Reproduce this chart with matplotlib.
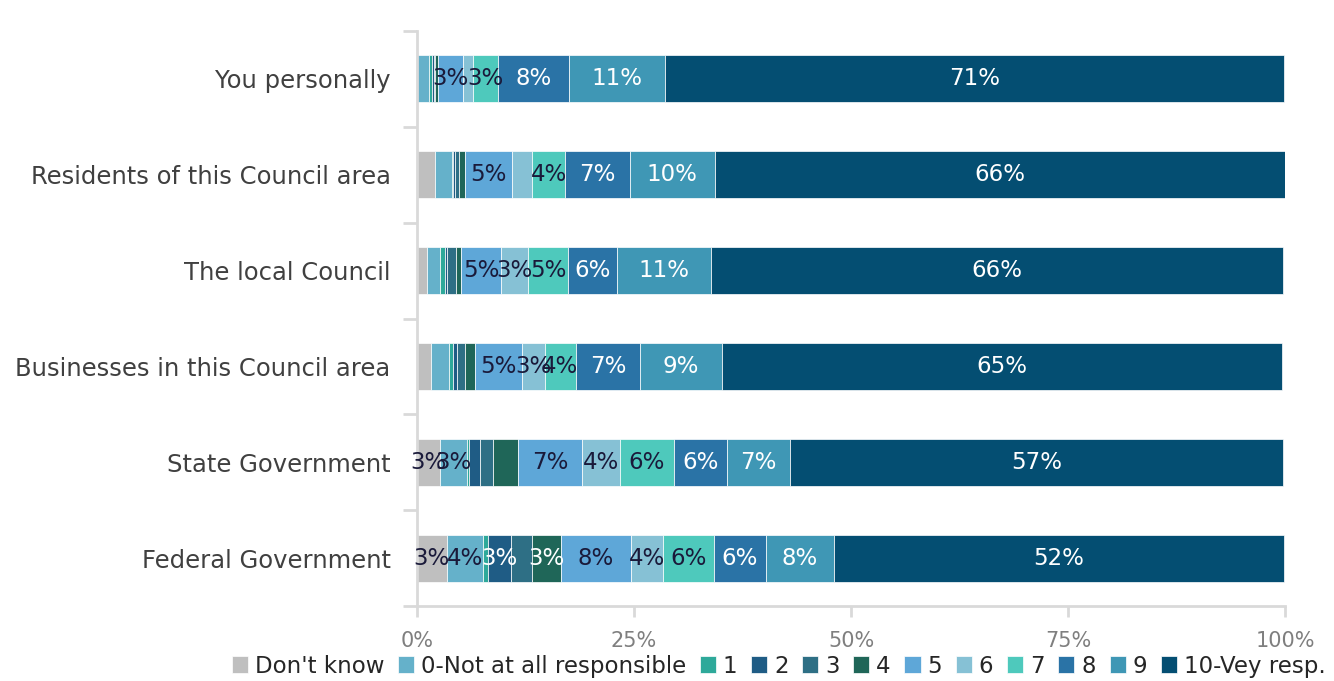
import matplotlib
matplotlib.use("Agg")
import matplotlib.pyplot as plt
import numpy as np

plt.rcParams['font.family'] = ['DejaVu Sans']

categories = [
    "You personally",
    "Residents of this Council area",
    "The local Council",
    "Businesses in this Council area",
    "State Government",
    "Federal Government",
]

series_names = ["Don't know", "0-Not at all responsible", "1", "2", "3", "4",
                "5", "6", "7", "8", "9", "10-Vey resp."]

# Percentages per series, one value per category (top to bottom)
dont_know = [0.0, 2.1, 1.1, 1.6, 2.6, 3.4]
score_0 = [1.4, 1.9, 1.6, 2.1, 3.2, 4.2]
score_1 = [0.3, 0.2, 0.5, 0.4, 0.2, 0.6]
score_2 = [0.2, 0.2, 0.3, 0.5, 1.2, 2.6]
score_3 = [0.2, 0.4, 1.0, 0.9, 1.6, 2.5]
score_4 = [0.3, 0.7, 0.6, 1.2, 2.8, 3.3]
score_5 = [2.9, 5.4, 4.6, 5.4, 7.4, 8.0]
score_6 = [1.1, 2.4, 3.1, 2.6, 4.4, 3.7]
score_7 = [2.9, 3.8, 4.6, 3.6, 6.2, 5.9]
score_8 = [8.2, 7.4, 5.6, 7.4, 6.1, 6.0]
score_9 = [11.1, 9.8, 10.9, 9.4, 7.3, 7.8]
score_10 = [71.3, 65.7, 65.9, 64.6, 56.8, 51.9]

values = [dont_know, score_0, score_1, score_2, score_3, score_4,
          score_5, score_6, score_7, score_8, score_9, score_10]

# Which segments carry a data label (1 = labelled)
show_label = [
    [0, 0, 0, 0, 1, 1],
    [0, 0, 0, 0, 1, 1],
    [0, 0, 0, 0, 0, 0],
    [0, 0, 0, 0, 0, 1],
    [0, 0, 0, 0, 0, 0],
    [0, 0, 0, 0, 0, 1],
    [1, 1, 1, 1, 1, 1],
    [0, 0, 1, 1, 1, 1],
    [1, 1, 1, 1, 1, 1],
    [1, 1, 1, 1, 1, 1],
    [1, 1, 1, 1, 1, 1],
    [1, 1, 1, 1, 1, 1],
]

colors = ["#BFBFBF", "#65B1CA", "#2EA99A", "#1F5C85", "#2E6F85", "#1F6658",
          "#5EA7D8", "#86C1D5", "#4EC9BC", "#2A73A6", "#3F97B5", "#044E72"]
label_colors = ["#1A1A3A", "#1A1A3A", "white", "white", "white", "white",
                "#1A1A3A", "#1A1A3A", "#1A1A3A", "white", "white", "white"]

fig = plt.figure(figsize=(13.34, 6.81), dpi=100)
ax = fig.add_axes([0.3126, 0.110, 0.6507, 0.8445])

y = np.arange(len(categories))
left = np.zeros(len(categories))
handles = []
for name, vals, col, lcol, mask in zip(series_names, values, colors, label_colors, show_label):
    vals = np.array(vals)
    bars = ax.barh(y, vals, left=left, height=0.49, color=col,
                   edgecolor="white", linewidth=0.5, label=name)
    handles.append(bars)
    for i, (v, m) in enumerate(zip(vals, mask)):
        if m:
            ax.text(left[i] + v / 2, y[i], f"{v:.0f}%", ha="center", va="center",
                    fontsize=16.5, color=lcol)
    left += vals

ax.set_xlim(0, 100)
ax.set_ylim(len(categories) - 0.5, -0.5)
ax.set_yticks(y)
ax.set_yticklabels(categories, fontsize=17.5, color="#404040")
ax.set_yticks(np.arange(-0.5, len(categories)), minor=True)
ax.tick_params(axis="y", which="major", length=0, pad=19)
ax.tick_params(axis="y", which="minor", length=10, width=2, color="#D9D9D9")
ax.set_xticks([0, 25, 50, 75, 100])
ax.set_xticklabels(["0%", "25%", "50%", "75%", "100%"], fontsize=15, color="#7F7F7F")
ax.tick_params(axis="x", length=8, width=2, color="#D9D9D9", pad=10)

for s in ["top", "right"]:
    ax.spines[s].set_visible(False)
for s in ["left", "bottom"]:
    ax.spines[s].set_color("#D9D9D9")
    ax.spines[s].set_linewidth(2)

leg = fig.legend(handles=handles, loc="center", bbox_to_anchor=(0.5836, 0.022), ncol=12,
                 frameon=False, fontsize=16.5, handlelength=0.7, handleheight=0.7,
                 handletextpad=0.3, columnspacing=0.6, borderaxespad=0, borderpad=0)
for t in leg.get_texts():
    t.set_color("#262626")

fig.savefig("out.png", dpi=100)
